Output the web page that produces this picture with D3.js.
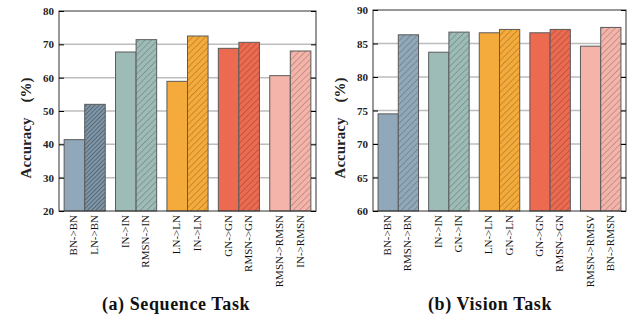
<!DOCTYPE html>
<html lang="en">
<head>
  <meta charset="UTF-8" />
  <script src="https://d3js.org/d3.v7.min.js"></script>
  <title>Normalization transfer accuracy</title>
  <style>
    body { margin: 0; background: #fff; }
    text { font-family: "Liberation Serif", "Times New Roman", serif; }
  </style>
</head>
<body>
  <div id="chart"></div>
  <script>
    // group colours (one per pair of bars)
    const groupColors = ["#90a8b9", "#9ebcb7", "#f4ab3b", "#eb6a50", "#f4b4aa"];

    const seqLabels = ["BN->BN", "LN->BN", "IN->IN", "RMSN->IN", "LN->LN", "IN->LN", "GN->GN", "RMSN->GN", "RMSN->RMSN", "IN->RMSN"];
    const seqValues = [41.4, 52.0, 67.7, 71.4, 58.9, 72.5, 68.8, 70.6, 60.6, 68.0];
    const seqTicks = [20, 30, 40, 50, 60, 70, 80];

    const visLabels = ["BN->BN", "RMSN->BN", "IN->IN", "GN->IN", "LN->LN", "GN->LN", "GN->GN", "RMSN->GN", "RMSN->RMSV", "BN->RMSN"];
    const visValues = [74.5, 86.3, 83.7, 86.7, 86.6, 87.1, 86.6, 87.1, 84.6, 87.4];
    const visTicks = [60, 65, 70, 75, 80, 85, 90];

    const width = 631, height = 320;
    const svg = d3.select("#chart").append("svg")
      .attr("width", width).attr("height", height);
    const defs = svg.append("defs");

    function hatch(id, color, gap, lineColor) {
      const p = defs.append("pattern")
        .attr("id", id)
        .attr("patternUnits", "userSpaceOnUse")
        .attr("width", gap).attr("height", gap)
        .attr("patternTransform", "rotate(45)");
      p.append("rect").attr("width", gap).attr("height", gap).attr("fill", color);
      p.append("line")
        .attr("x1", 0).attr("y1", 0).attr("x2", 0).attr("y2", gap)
        .attr("stroke", lineColor).attr("stroke-width", 1);
    }
    groupColors.forEach((c, i) => hatch("h" + i, c, 4.5, d3.color(c).darker(1.3)));
    hatch("hdense", "#7f97a8", 3, "#2f3a44");

    function drawPanel({ left, right, top, bottom, labels, values, ticks, title, denseFirst }) {
      const g = svg.append("g");
      const groups = d3.range(groupColors.length);

      const x = d3.scaleBand().domain(groups).range([left, right])
        .paddingInner(0.2).paddingOuter(0.1);
      const xi = d3.scaleBand().domain([0, 1]).range([0, x.bandwidth()]);
      const y = d3.scaleLinear().domain(d3.extent(ticks)).range([bottom, top]);

      // grid lines
      g.append("g").selectAll("line").data(ticks.slice(1, -1)).join("line")
        .attr("x1", left).attr("x2", right)
        .attr("y1", d => y(d)).attr("y2", d => y(d))
        .attr("stroke", "#bdbdbd").attr("stroke-width", 1.5);

      // bars
      g.append("g").selectAll("rect").data(values).join("rect")
        .attr("x", (d, i) => x(Math.floor(i / 2)) + xi(i % 2))
        .attr("width", xi.bandwidth())
        .attr("y", d => y(d))
        .attr("height", d => bottom - y(d))
        .attr("fill", (d, i) => {
          const gi = Math.floor(i / 2);
          if (i % 2 === 0) return groupColors[gi];
          if (denseFirst && gi === 0) return "url(#hdense)";
          return "url(#h" + gi + ")";
        })
        .attr("stroke", "#5a5a5a").attr("stroke-width", 1);

      // frame
      g.append("rect")
        .attr("x", left).attr("y", top)
        .attr("width", right - left).attr("height", bottom - top)
        .attr("fill", "none").attr("stroke", "#333").attr("stroke-width", 1);

      // inside ticks on both sides
      g.append("g").call(d3.axisLeft(y).tickValues(ticks).tickSize(-5).tickFormat(""))
        .attr("transform", `translate(${left},0)`)
        .call(a => a.select(".domain").remove());
      g.append("g").call(d3.axisRight(y).tickValues(ticks).tickSize(-5).tickFormat(""))
        .attr("transform", `translate(${right},0)`)
        .call(a => a.select(".domain").remove());

      // tick labels
      g.append("g").selectAll("text").data(ticks).join("text")
        .attr("x", left - 5).attr("y", d => y(d) + 4)
        .attr("text-anchor", "end")
        .attr("font-size", 11).attr("font-weight", "bold")
        .attr("fill", "#222")
        .text(d => d);

      // y label
      g.append("text")
        .attr("transform", `translate(${left - 28},128) rotate(-90)`)
        .attr("text-anchor", "middle")
        .attr("font-size", 15).attr("font-weight", "bold")
        .attr("fill", "#222")
        .style("white-space", "pre")
        .text("Accuracy    (%)");

      // category labels
      g.append("g").selectAll("text").data(labels).join("text")
        .attr("transform", (d, i) => {
          const cx = x(Math.floor(i / 2)) + xi(i % 2) + xi.bandwidth() / 2;
          return `translate(${cx + 3},${bottom + 4}) rotate(-90)`;
        })
        .attr("text-anchor", "end")
        .attr("font-size", 11)
        .attr("fill", "#111")
        .text(d => d);

      // panel title
      g.append("text")
        .attr("x", left + 117).attr("y", 310)
        .attr("text-anchor", "middle")
        .attr("font-size", 18).attr("font-weight", "bold")
        .attr("letter-spacing", 0.6)
        .attr("fill", "#111")
        .text(title);
    }

    drawPanel({ left: 59, right: 316, top: 11, bottom: 211, labels: seqLabels, values: seqValues,
      ticks: seqTicks, title: "(a) Sequence Task", denseFirst: true });
    drawPanel({ left: 373, right: 626, top: 10, bottom: 211, labels: visLabels, values: visValues,
      ticks: visTicks, title: "(b) Vision Task", denseFirst: false });
  </script>
</body>
</html>
